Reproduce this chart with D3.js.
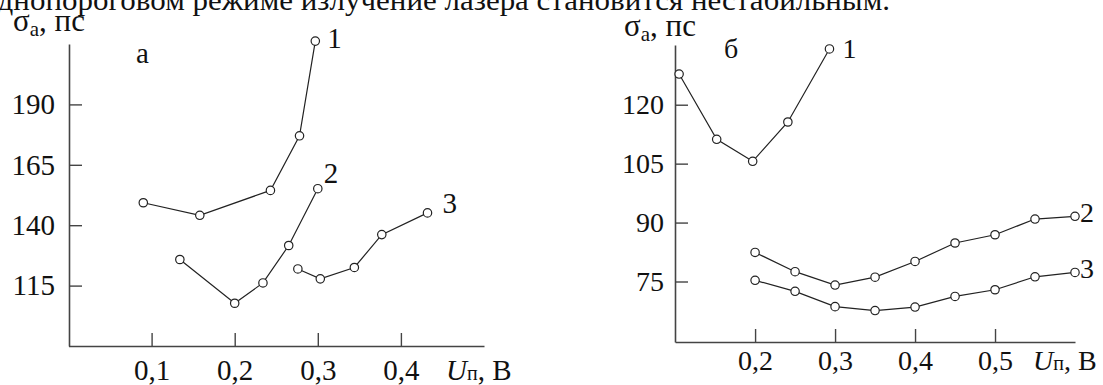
<!DOCTYPE html>
<html>
<head>
<meta charset="utf-8">
<script src="https://cdn.jsdelivr.net/npm/d3@7"></script>
<style>
  html, body { margin: 0; padding: 0; background: #fff; }
  svg { display: block; font-family: "Liberation Serif", "Times New Roman", serif; }
</style>
</head>
<body>
<svg id="chart" width="1103" height="385"></svg>
<script>
// ---- Data ----
// Panel "а"
const leftXTicks = [0.1, 0.2, 0.3, 0.4];
const leftYTicks = [115, 140, 165, 190];
const leftX1 = [0.090, 0.158, 0.243, 0.278, 0.297];
const leftY1 = [149.3, 144.1, 154.4, 177.0, 216.2];
const leftX2 = [0.134, 0.200, 0.234, 0.265, 0.300];
const leftY2 = [125.8, 107.7, 116.1, 131.6, 155.1];
const leftX3 = [0.276, 0.303, 0.344, 0.377, 0.432];
const leftY3 = [121.9, 117.8, 122.5, 136.1, 145.1];
// Panel "б"
const rightXTicks = [0.2, 0.3, 0.4, 0.5];
const rightYTicks = [75, 90, 105, 120];
const rightX1 = [0.105, 0.152, 0.197, 0.241, 0.293];
const rightY1 = [127.8, 111.2, 105.6, 115.6, 134.2];
const rightX23 = [0.20, 0.25, 0.30, 0.35, 0.40, 0.45, 0.50, 0.55, 0.60];
const rightY2 = [82.4, 77.5, 74.1, 76.1, 80.1, 84.8, 86.9, 90.9, 91.6];
const rightY3 = [75.3, 72.5, 68.6, 67.6, 68.5, 71.2, 72.9, 76.2, 77.3];
const seriesNames = ["1", "2", "3"];
const topText = "однопороговом режиме излучение лазера становится нестабильным.";

const svg = d3.select("#chart");
const axisColor = "#444";
const ink = "#111";
const fmt = d => d3.format(".1f")(d).replace(".", ",");

// Top cut-off line of text (only its lower part is inside the picture)
svg.append("text")
  .attr("x", -17).attr("y", 10)
  .attr("font-size", 30).attr("fill", ink)
  .attr("textLength", 907).attr("lengthAdjust", "spacingAndGlyphs")
  .text(topText);

function panel(cfg) {
  const g = svg.append("g");
  const x = d3.scaleLinear().domain(cfg.xDomain).range(cfg.xRange);
  const y = d3.scaleLinear().domain(cfg.yDomain).range(cfg.yRange);

  const xAxis = d3.axisBottom(x).tickValues(cfg.xTicks).tickFormat(fmt)
    .tickSizeInner(-13).tickSizeOuter(0).tickPadding(cfg.xPad);
  const yAxis = d3.axisLeft(y).tickValues(cfg.yTicks).tickFormat(d3.format("d"))
    .tickSizeInner(-13).tickSizeOuter(0).tickPadding(cfg.yPad);

  const gx = g.append("g").attr("transform", `translate(0,${cfg.yRange[0]})`).call(xAxis);
  const gy = g.append("g").attr("transform", `translate(${cfg.yAxisX},0)`).call(yAxis);
  [gx, gy].forEach(a => {
    a.select(".domain").attr("stroke", axisColor).attr("stroke-width", 1.6);
    a.selectAll(".tick line").attr("stroke", axisColor).attr("stroke-width", 1.4);
    a.selectAll("text").attr("font-size", cfg.fs).attr("fill", ink)
      .attr("font-family", "Liberation Serif, serif");
  });

  const line = d3.line().x(d => x(d[0])).y(d => y(d[1]));
  cfg.series.forEach((s, i) => {
    const pts = s.xs.map((v, k) => [v, s.ys[k]]);
    g.append("path").datum(pts).attr("d", line)
      .attr("fill", "none").attr("stroke", "#222").attr("stroke-width", 1.2);
    g.selectAll(null).data(pts).enter().append("circle")
      .attr("cx", d => x(d[0])).attr("cy", d => y(d[1])).attr("r", 4.2)
      .attr("fill", "#fff").attr("stroke", "#222").attr("stroke-width", 1.2);
    const last = pts[pts.length - 1];
    g.append("text")
      .attr("x", x(last[0]) + s.lx).attr("y", y(last[1]) + s.ly)
      .attr("font-size", cfg.fs).attr("fill", ink)
      .text(seriesNames[i]);
  });

  // Y-axis title  σa, пс
  const yt = g.append("text").attr("x", cfg.yTitle[0]).attr("y", cfg.yTitle[1])
    .attr("font-size", 31).attr("fill", ink);
  yt.append("tspan").text("σ");
  yt.append("tspan").attr("font-size", 21).attr("dy", 5).text("a");
  yt.append("tspan").attr("dy", -5).text(", пс");

  // X-axis title  Uп, В
  const xt = g.append("text").attr("x", cfg.xTitle[0]).attr("y", cfg.xTitle[1])
    .attr("font-size", cfg.fs).attr("fill", ink);
  xt.append("tspan").attr("font-style", "italic").text("U");
  xt.append("tspan").attr("font-size", 20).text("п");
  xt.append("tspan").text(", В");

  // Panel letter
  g.append("text").attr("x", cfg.letter[0]).attr("y", cfg.letter[1])
    .attr("font-size", cfg.fs).attr("fill", ink).text(cfg.letter[2]);
}

panel({
  xDomain: [0, 0.5], xRange: [68.5, 484],
  yDomain: [90, 215], yRange: [346, 44],
  yAxisX: 69, xTicks: leftXTicks, yTicks: leftYTicks,
  xPad: 13.5, yPad: 14, fs: 29,
  series: [
    { xs: leftX1, ys: leftY1, lx: 12, ly: 7 },
    { xs: leftX2, ys: leftY2, lx: 6, ly: -6 },
    { xs: leftX3, ys: leftY3, lx: 15, ly: 0 }
  ],
  yTitle: [13, 31], xTitle: [446, 380], letter: [136, 63, "а"]
});

panel({
  xDomain: [0.1, 0.6], xRange: [675.1, 1075],
  yDomain: [59.6, 135.2], yRange: [342, 45],
  yAxisX: 675, xTicks: rightXTicks, yTicks: rightYTicks,
  xPad: 8, yPad: 11, fs: 28,
  series: [
    { xs: rightX1, ys: rightY1, lx: 13, ly: 9 },
    { xs: rightX23, ys: rightY2, lx: 5, ly: 6 },
    { xs: rightX23, ys: rightY3, lx: 5, ly: 6 }
  ],
  yTitle: [624, 36], xTitle: [1033, 370], letter: [724, 58, "б"]
});
</script>
</body>
</html>
